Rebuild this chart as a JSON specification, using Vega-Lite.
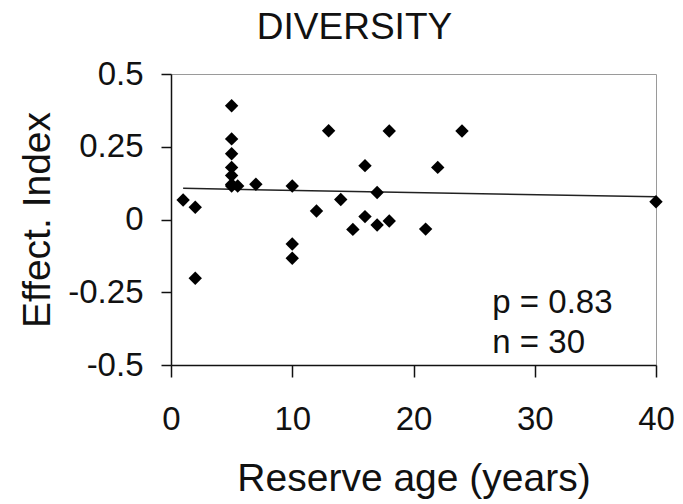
{
  "$schema": "https://vega.github.io/schema/vega-lite/v6.json",
  "width": 485,
  "height": 291,
  "autosize": {"type": "none"},
  "padding": {"left": 171, "top": 74, "right": 27, "bottom": 139},
  "background": "white",
  "config": {
    "font": "Liberation Sans",
    "view": {"stroke": "#9a9a9a", "strokeWidth": 1},
    "axis": {
      "grid": false,
      "domainColor": "#111",
      "domainWidth": 1.5,
      "tickColor": "#111",
      "tickWidth": 1.5,
      "labelColor": "#111",
      "titleColor": "#111",
      "labelFont": "Liberation Sans",
      "titleFont": "Liberation Sans",
      "titleFontWeight": "normal"
    }
  },
  "title": {
    "text": "DIVERSITY",
    "fontSize": 37,
    "fontWeight": "normal",
    "font": "Liberation Sans",
    "color": "#111",
    "anchor": "middle",
    "dx": -59,
    "offset": 11
  },
  "datasets": {
    "points": [
      {"age": 1, "effect": 0.067},
      {"age": 2, "effect": 0.042},
      {"age": 2, "effect": -0.202},
      {"age": 5, "effect": 0.391},
      {"age": 5, "effect": 0.277},
      {"age": 5, "effect": 0.226},
      {"age": 5, "effect": 0.179},
      {"age": 5, "effect": 0.151},
      {"age": 5, "effect": 0.115},
      {"age": 5, "effect": 0.12},
      {"age": 5.5, "effect": 0.115},
      {"age": 7, "effect": 0.121},
      {"age": 10, "effect": 0.115},
      {"age": 10, "effect": -0.084},
      {"age": 10, "effect": -0.133},
      {"age": 12, "effect": 0.029},
      {"age": 13, "effect": 0.305},
      {"age": 14, "effect": 0.069},
      {"age": 15, "effect": -0.034},
      {"age": 16, "effect": 0.185},
      {"age": 16, "effect": 0.01},
      {"age": 17, "effect": 0.093},
      {"age": 17, "effect": -0.019},
      {"age": 18, "effect": 0.304},
      {"age": 18, "effect": -0.005},
      {"age": 21, "effect": -0.033},
      {"age": 22, "effect": 0.179},
      {"age": 24, "effect": 0.304},
      {"age": 40, "effect": 0.061}
    ],
    "fit": [
      {"age": 1, "effect": 0.107},
      {"age": 40, "effect": 0.078}
    ],
    "notes": [
      {"label": "p = 0.83", "age": 26.5, "effect": -0.321},
      {"label": "n = 30", "age": 26.5, "effect": -0.459}
    ]
  },
  "layer": [
    {
      "mark": {"type": "rule", "color": "#7a7a7a", "strokeWidth": 2, "strokeDash": [9, 4]},
      "encoding": {
        "y": {"datum": 0, "type": "quantitative", "scale": {"domain": [-0.5, 0.5], "nice": false}}
      }
    },
    {
      "data": {"name": "fit"},
      "mark": {"type": "line", "color": "#222", "strokeWidth": 1.5},
      "encoding": {
        "x": {"field": "age", "type": "quantitative"},
        "y": {"field": "effect", "type": "quantitative"}
      }
    },
    {
      "data": {"name": "points"},
      "mark": {"type": "point", "shape": "diamond", "filled": true, "color": "#000", "opacity": 1, "size": 180},
      "encoding": {
        "x": {
          "field": "age",
          "type": "quantitative",
          "scale": {"domain": [0, 40], "nice": false, "zero": false},
          "axis": {
            "values": [0, 10, 20, 30, 40],
            "title": "Reserve age (years)",
            "titleFontSize": 39,
            "titlePadding": 23,
            "labelFontSize": 33,
            "labelPadding": 26,
            "tickSize": 12,
            "labelFlush": false,
            "labelOverlap": false
          }
        },
        "y": {
          "field": "effect",
          "type": "quantitative",
          "scale": {"domain": [-0.5, 0.5], "nice": false, "zero": false},
          "axis": {
            "values": [-0.5, -0.25, 0, 0.25, 0.5],
            "labelExpr": "'' + datum.value",
            "title": "Effect. Index",
            "titleFontSize": 39,
            "titlePadding": 10,
            "labelFontSize": 33,
            "labelPadding": 18,
            "tickSize": 10,
            "labelFlush": false,
            "labelOverlap": false
          }
        }
      }
    },
    {
      "data": {"name": "notes"},
      "mark": {"type": "text", "align": "left", "baseline": "alphabetic", "fontSize": 33, "color": "#111", "font": "Liberation Sans"},
      "encoding": {
        "x": {"field": "age", "type": "quantitative"},
        "y": {"field": "effect", "type": "quantitative"},
        "text": {"field": "label"}
      }
    }
  ]
}
